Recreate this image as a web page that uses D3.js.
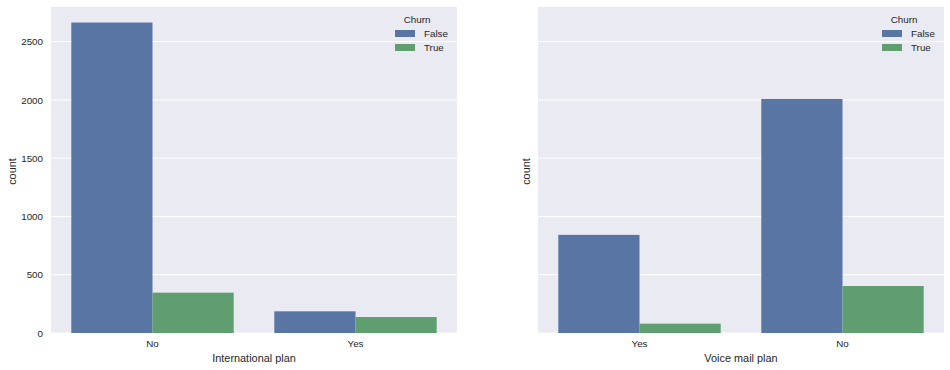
<!DOCTYPE html>
<html><head><meta charset="utf-8">
<script src="https://cdn.jsdelivr.net/npm/d3@7"></script>
<style>body{margin:0;background:#fff}svg{display:block}text{font-family:"Liberation Sans",Arial,sans-serif;fill:#262626}</style>
</head><body><svg id="c" width="950" height="370"></svg>
<script>
const hues = ["False", "True"];
const intlCategories = ["No", "Yes"];
const intlFalse = [2664, 186];
const intlTrue = [346, 137];
const vmCategories = ["Yes", "No"];
const vmFalse = [842, 2008];
const vmTrue = [80, 403];
const yTicks = [0, 500, 1000, 1500, 2000, 2500];
const colors = ["#5975a4", "#5f9e6e"];

const svg = d3.select("#c");
const plotTop = 7, plotBottom = 333, W = 406;
const tickFS = "9.8px", labelFS = "10.9px";
const maxV = d3.max([...intlFalse, ...intlTrue, ...vmFalse, ...vmTrue]);
const y = d3.scaleLinear().domain([0, maxV * 1.05]).range([plotBottom, plotTop]);

function panel(x0, cats, fVals, tVals, xlabel, showYLabels, countX) {
  const g = svg.append("g");
  g.append("rect").attr("x", x0).attr("y", plotTop).attr("width", W).attr("height", plotBottom - plotTop).attr("fill", "#eaeaf2");
  const x = d3.scaleBand().domain(cats).range([x0, x0 + W]).paddingInner(0.2).paddingOuter(0.1);
  g.selectAll(".grid").data(yTicks).enter().append("line")
    .attr("x1", x0).attr("x2", x0 + W).attr("y1", d => y(d)).attr("y2", d => y(d))
    .attr("stroke", "#fff").attr("stroke-width", 1);
  const sub = d3.scaleBand().domain(hues).range([0, x.bandwidth()]);
  const data = [];
  cats.forEach((c, i) => { data.push({c, h: "False", v: fVals[i]}); data.push({c, h: "True", v: tVals[i]}); });
  g.selectAll(".bar").data(data).enter().append("rect")
    .attr("x", d => x(d.c) + sub(d.h)).attr("width", sub.bandwidth())
    .attr("y", d => y(d.v)).attr("height", d => y(0) - y(d.v))
    .attr("fill", d => colors[hues.indexOf(d.h)]);
  g.selectAll(".xt").data(cats).enter().append("text")
    .attr("x", d => x(d) + x.bandwidth() / 2).attr("y", 347).attr("text-anchor", "middle")
    .attr("font-size", tickFS).text(d => d);
  g.append("text").attr("x", x0 + W / 2).attr("y", 361.5).attr("text-anchor", "middle").attr("font-size", labelFS).text(xlabel);
  if (showYLabels) {
    g.selectAll(".yt").data(yTicks).enter().append("text")
      .attr("x", x0 - 8).attr("y", d => y(d) + 3.6).attr("text-anchor", "end").attr("font-size", tickFS).text(d => d);
  }
  g.append("text").attr("transform", `translate(${countX},171.5) rotate(-90)`)
    .attr("text-anchor", "middle").attr("font-size", labelFS).text("count");
  const lx = x0 + W - 62;
  g.append("text").attr("x", lx + 22).attr("y", 23).attr("text-anchor", "middle").attr("font-size", tickFS).text("Churn");
  hues.forEach((h, i) => {
    g.append("rect").attr("x", lx).attr("y", 30 + i * 14).attr("width", 20).attr("height", 7).attr("fill", colors[i]);
    g.append("text").attr("x", lx + 29).attr("y", 37 + i * 14).attr("font-size", tickFS).text(h);
  });
}
panel(51, intlCategories, intlFalse, intlTrue, "International plan", true, 15.5);
panel(538, vmCategories, vmFalse, vmTrue, "Voice mail plan", false, 530);
</script></body></html>
